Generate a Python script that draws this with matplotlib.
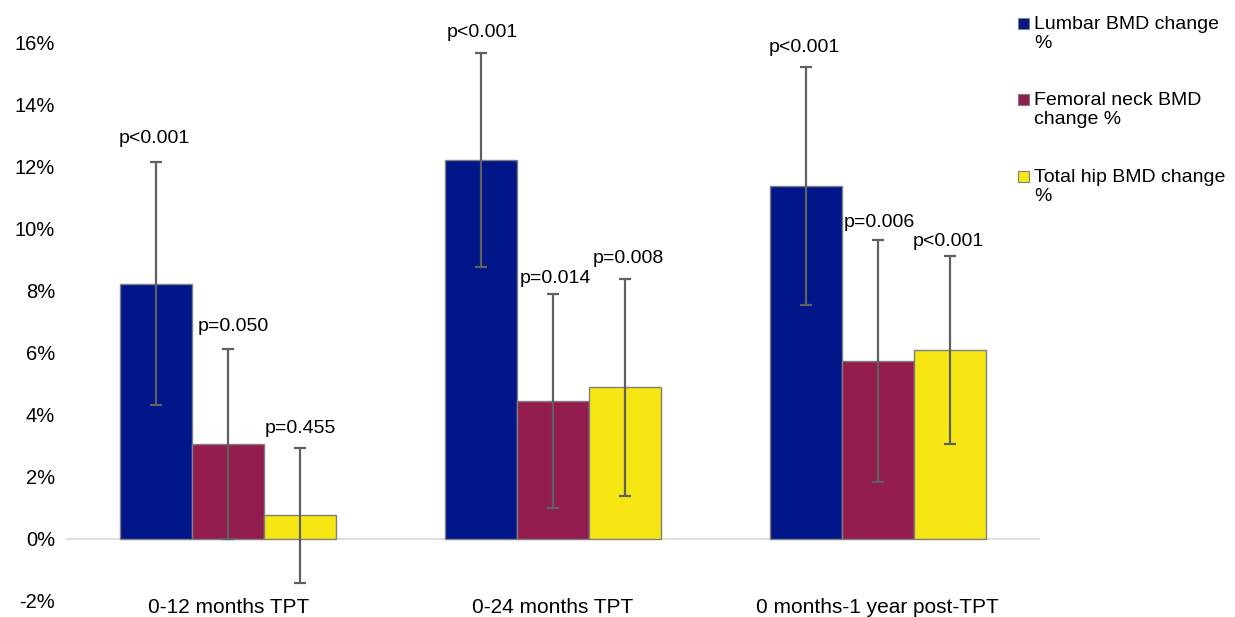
import matplotlib
matplotlib.use("Agg")
import matplotlib.pyplot as plt
import numpy as np
from matplotlib.patches import Rectangle

categories = ["0-12 months TPT", "0-24 months TPT", "0 months-1 year post-TPT"]
series_names = ["Lumbar BMD change\n%", "Femoral neck BMD\nchange %", "Total hip BMD change\n%"]
lumbar = [8.23, 12.23, 11.39]
femoral = [3.06, 4.45, 5.74]
hip = [0.77, 4.90, 6.10]
lumbar_err = [3.92, 3.45, 3.85]
femoral_err = [3.07, 3.45, 3.90]
hip_err = [2.18, 3.50, 3.02]
lumbar_p = ["p<0.001", "p<0.001", "p<0.001"]
femoral_p = ["p=0.050", "p=0.014", "p=0.006"]
hip_p = ["p=0.455", "p=0.008", "p<0.001"]
yticks = list(range(-2, 17, 2))

colors = ["#011689", "#931C4E", "#F5E614"]
# label placement (pixels): gap between label baseline and error-bar top, horizontal shift
label_gap = [[19, 16, 15], [18, 11, 13], [15, 16, 10]]
label_dx = [[-2, 1, -1], [5, 2, 2], [0, 3, -1]]

plt.rcParams['font.family'] = ['Liberation Sans', 'DejaVu Sans']
W, H = 1235, 617
fig = plt.figure(figsize=(W / 100, H / 100), dpi=100)
ax = fig.add_axes([66 / W, 1 - 601 / H, 974 / W, 558 / H])

x = np.arange(len(categories))
w = 0.222
series = [(lumbar, lumbar_err, lumbar_p), (femoral, femoral_err, femoral_p), (hip, hip_err, hip_p)]
for i, (vals, errs, ps) in enumerate(series):
    xs = x + (i - 1) * w
    ax.bar(xs, vals, width=w, color=colors[i], edgecolor="#7f7f7f", linewidth=1.0, zorder=2)
    ax.errorbar(xs, vals, yerr=errs, fmt="none", ecolor="#606060", elinewidth=1.6,
                capsize=4, capthick=1.6, zorder=3)
    for j, (xx, v, e, p) in enumerate(zip(xs, vals, errs, ps)):
        ax.annotate(p, (xx, v + e),
                    xytext=(label_dx[i][j] * 0.72, label_gap[i][j] * 0.72),
                    textcoords="offset points",
                    ha="center", va="baseline", fontsize=14, color="black")

ax.axhline(0, color="#d9d9d9", linewidth=1.2, zorder=1)
ax.set_xlim(-0.5, 2.5)
ax.set_ylim(-2, 16)
ax.set_yticks(yticks)
ax.set_yticklabels([f"{t}%" for t in yticks], fontsize=14.5)
ax.set_xticks(x)
ax.set_xticklabels(categories, fontsize=15)
ax.tick_params(axis="y", length=0, pad=8)
ax.tick_params(axis="x", length=0, pad=-2)
for s in ax.spines.values():
    s.set_visible(False)

# manual legend (Excel style: marker aligned to first line of label)
baselines = [29, 105, 182]
line_step = 19
for c, name, by in zip(colors, series_names, baselines):
    fig.patches.append(Rectangle((1018 / W, 1 - by / H), 11 / W, 11 / H,
                                 transform=fig.transFigure, facecolor=c,
                                 edgecolor="#7f7f7f", linewidth=0.8))
    for k, line in enumerate(name.split("\n")):
        fig.text(1034 / W, 1 - (by + k * line_step) / H, line, fontsize=14,
                 va="baseline", ha="left")

fig.savefig("out.png", dpi=100, facecolor="white")
